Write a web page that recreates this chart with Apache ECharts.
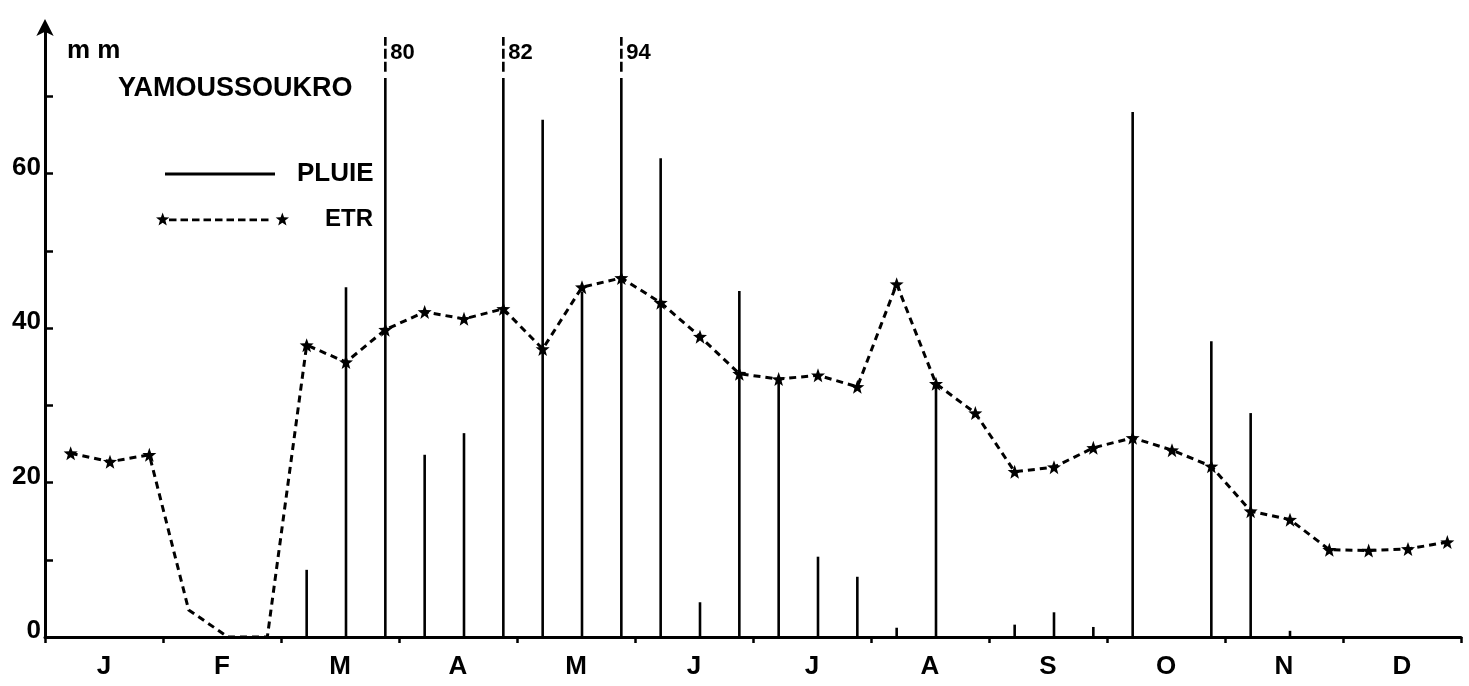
<!DOCTYPE html>
<html>
<head>
<meta charset="utf-8">
<script src="https://cdn.jsdelivr.net/npm/echarts@6/dist/echarts.min.js"></script>
<style>
  html, body { margin: 0; padding: 0; background: #fff; }
  #chart { width: 1469px; height: 686px; }
</style>
</head>
<body>
<div id="chart"></div>
<script>
// Months of the year, each split into three dekads (10-day periods)
const months = ['J', 'F', 'M', 'A', 'M', 'J', 'J', 'A', 'S', 'O', 'N', 'D'];
const dekads = months.flatMap((m, mi) => [1, 2, 3].map(d => (mi + 1) + '-' + d));

// Dekadal rainfall (mm) at Yamoussoukro
const pluie = [
  0, 0, 0,        0, 0, 0,        8.7, 45.3, 80,
  23.6, 26.4, 82, 67, 44.7, 94,   62, 4.5, 44.8,
  33, 10.4, 7.8,  1.2, 32.7, 0,   1.6, 3.2, 1.3,
  68, 0, 38.3,    29, 0.8, 0,     0, 0, 0
];

// Dekadal real evapotranspiration (mm)
const etr = [
  23.8, 22.7, 23.6, 3.5, 0, 0,     37.8, 35.6, 39.8,
  42.1, 41.2, 42.5, 37.3, 45.3, 46.5, 43.3, 38.9, 34.1,
  33.4, 33.9, 32.4, 45.7, 32.8, 29.0, 21.4, 22.0, 24.5,
  25.8, 24.2, 22.1, 16.3, 15.2, 11.3, 11.2, 11.4, 12.3
];
// dekads where the ETR curve passes without a star marker
const etrUnmarked = [3, 4, 5];

// y-axis ticks and labelled values (mm)
const yTicks = [0, 10, 20, 30, 40, 50, 60, 70];
const yTickLabels = [0, 20, 40, 60];
const yMax = 79;

const FONT = '"Liberation Sans", Arial, Helvetica, sans-serif';
const INK = '#000';

// rain bars taller than this are broken off, with their value written next to them
const RAIN_SOLID_MAX = 72.4;
const RAIN_DASH_FROM = 73.2;
const RAIN_DASH_TO = 77.7;
const RAIN_LABEL_AT = 75.6;

function starPath(cx, cy, R, r) {
  let d = '';
  for (let i = 0; i < 10; i++) {
    const rad = i % 2 ? r : R;
    const a = Math.PI / 180 * (-90 + 36 * i);
    d += (i ? 'L' : 'M') + (cx + rad * Math.cos(a)).toFixed(2) + ',' + (cy + rad * Math.sin(a)).toFixed(2);
  }
  return d + 'Z';
}
const STAR = 'path://' + starPath(7, 7, 7, 2.9);

// legend key for ETR: star, dashes, star
function etrKeyPath() {
  let d = starPath(6.66, 7, 7, 2.9);
  for (let x = 13; x < 112; x += 11.5) {
    d += 'M' + x + ',5.8H' + (x + 7.5) + 'V8.4H' + x + 'Z';
  }
  d += starPath(126.34, 7, 7, 2.9);
  return 'path://' + d;
}

function renderRain(params, api) {
  const i = api.value(0);
  const v = api.value(1);
  if (!v) return null;
  const base = api.coord([i, 0]);
  const top = api.coord([i, Math.min(v, RAIN_SOLID_MAX)]);
  const children = [{
    type: 'line',
    shape: { x1: base[0], y1: base[1], x2: top[0], y2: top[1] },
    style: { stroke: INK, lineWidth: 2.6 }
  }];
  if (v > RAIN_SOLID_MAX) {
    const d0 = api.coord([i, RAIN_DASH_FROM]);
    const d1 = api.coord([i, RAIN_DASH_TO]);
    const lab = api.coord([i, RAIN_LABEL_AT]);
    children.push({
      type: 'line',
      shape: { x1: d0[0], y1: d0[1], x2: d1[0], y2: d1[1] },
      style: { stroke: INK, lineWidth: 2.6, lineDash: [10, 3] }
    });
    children.push({
      type: 'text',
      x: lab[0] + 5,
      y: lab[1],
      style: {
        text: String(v),
        font: 'bold 22px ' + FONT,
        fill: INK,
        verticalAlign: 'middle',
        align: 'left'
      }
    });
  }
  return { type: 'group', children };
}

const chart = echarts.init(document.getElementById('chart'), null, { renderer: 'canvas' });

chart.setOption({
  animation: false,
  backgroundColor: '#fff',
  color: [INK],
  textStyle: { fontFamily: FONT, color: INK },
  title: [
    {
      text: 'm m', left: 67, top: 38, padding: 0,
      textStyle: { fontSize: 26, fontWeight: 'bold', color: INK, fontFamily: FONT }
    },
    {
      text: 'YAMOUSSOUKRO', left: 118, top: 75, padding: 0,
      textStyle: { fontSize: 27, fontWeight: 'bold', color: INK, fontFamily: FONT }
    }
  ],
  legend: [
    {
      data: [{ name: 'PLUIE', icon: 'path://M0,0H110V3H0Z' }],
      left: 165, top: 159, padding: 0,
      itemWidth: 110, itemHeight: 3,
      selectedMode: false, symbolKeepAspect: false,
      textStyle: {
        fontSize: 26, fontWeight: 'bold', color: INK, fontFamily: FONT,
        lineHeight: 30, padding: [0, 0, 0, 17]
      }
    },
    {
      data: [{ name: 'ETR', icon: etrKeyPath() }],
      left: 156, top: 204, padding: 0,
      itemWidth: 133, itemHeight: 13,
      selectedMode: false, symbolKeepAspect: false,
      textStyle: {
        fontSize: 24, fontWeight: 'bold', color: INK, fontFamily: FONT,
        lineHeight: 30, padding: [0, 0, 0, 31]
      }
    }
  ],
  // grid 0 holds the dekadal data, grid 1 the drawn frame (axes, months, ticks)
  grid: [
    { left: 51, right: 2, top: 27, bottom: 49, containLabel: false, outerBoundsMode: 'none' },
    { left: 45, right: 8, top: 27, bottom: 49, containLabel: false, outerBoundsMode: 'none' }
  ],
  xAxis: [
    {
      gridIndex: 0, type: 'category', data: dekads, boundaryGap: true, position: 'bottom',
      axisLine: { show: false }, axisTick: { show: false }, axisLabel: { show: false },
      splitLine: { show: false }
    },
    {
      gridIndex: 1, type: 'category', data: months, boundaryGap: true, position: 'bottom',
      axisLine: { show: true, lineStyle: { color: INK, width: 3 } },
      axisTick: { show: true, length: 6, interval: 0, lineStyle: { color: INK, width: 2.5 } },
      axisLabel: {
        interval: 0, margin: 17, fontSize: 26, fontWeight: 'bold', color: INK, fontFamily: FONT
      },
      splitLine: { show: false }
    }
  ],
  yAxis: [
    {
      gridIndex: 0, type: 'value', min: 0, max: yMax,
      axisLine: { show: false }, axisTick: { show: false }, axisLabel: { show: false },
      splitLine: { show: false }
    },
    {
      gridIndex: 1, type: 'value', min: 0, max: yMax,
      axisLine: {
        show: true, onZero: false,
        lineStyle: { color: INK, width: 3 },
        symbol: ['none', 'arrow'], symbolSize: [13, 17], symbolOffset: [0, 8]
      },
      axisTick: { show: true, inside: true, length: 8, customValues: yTicks, lineStyle: { color: INK, width: 2.5 } },
      axisLabel: {
        customValues: yTickLabels, fontSize: 26, fontWeight: 'bold', color: INK,
        fontFamily: FONT, margin: 4, verticalAlign: 'bottom', lineHeight: 12
      },
      splitLine: { show: false }
    }
  ],
  series: [
    {
      name: 'PLUIE', type: 'custom', xAxisIndex: 0, yAxisIndex: 0,
      data: pluie.map((v, i) => [i, v]),
      encode: { x: 0, y: 1 },
      renderItem: renderRain,
      itemStyle: { color: INK },
      clip: false, silent: true, z: 2
    },
    {
      name: 'ETR', type: 'line', xAxisIndex: 0, yAxisIndex: 0,
      data: etr.map((v, i) => etrUnmarked.includes(i) ? { value: v, symbol: 'none' } : v),
      symbol: STAR, symbolSize: 14, showAllSymbol: true,
      lineStyle: { color: INK, width: 3, type: [7, 5] },
      itemStyle: { color: INK },
      silent: true, z: 3
    }
  ]
});
</script>
</body>
</html>
